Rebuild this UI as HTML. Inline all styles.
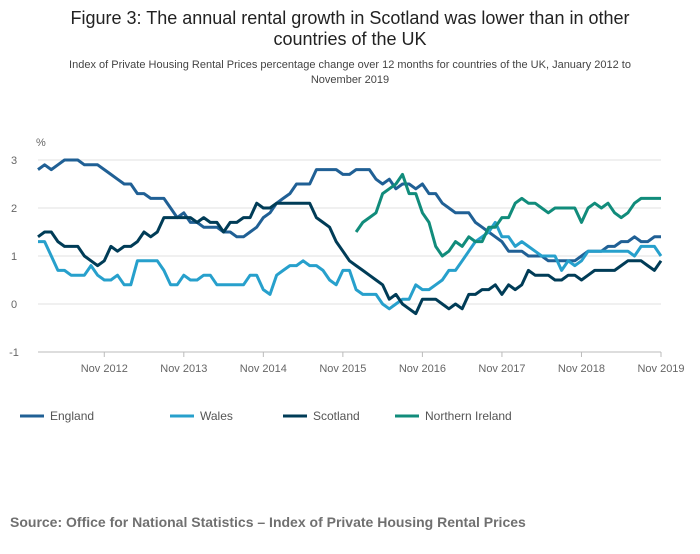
<!DOCTYPE html>
<html><head><meta charset="utf-8"><style>
body{margin:0;background:#fff;font-family:"Liberation Sans",sans-serif;}
svg text{font-family:"Liberation Sans",sans-serif;}
</style></head><body>
<svg id="c" width="700" height="549">
<text x="350" y="24" text-anchor="middle" font-size="18" fill="#222">Figure 3: The annual rental growth in Scotland was lower than in other</text>
<text x="350" y="45" text-anchor="middle" font-size="18" fill="#222">countries of the UK</text>
<text x="350" y="68" text-anchor="middle" font-size="11" fill="#444">Index of Private Housing Rental Prices percentage change over 12 months for countries of the UK, January 2012 to</text>
<text x="350" y="83" text-anchor="middle" font-size="11" fill="#444">November 2019</text>
<text x="36" y="146" font-size="11" fill="#666">%</text>
<g id="grid"></g><g id="lines"></g><g id="legend"></g>
<text x="10" y="527" font-size="14" font-weight="bold" fill="#707070">Source: Office for National Statistics – Index of Private Housing Rental Prices</text>
</svg>
<script>
const yTicks=[3,2,1,0,-1];
const xTickLabels=["Nov 2012","Nov 2013","Nov 2014","Nov 2015","Nov 2016","Nov 2017","Nov 2018","Nov 2019"];
const xTickIdx=[10,22,34,46,58,70,82,94];
const england=[2.8,2.9,2.8,2.9,3.0,3.0,3.0,2.9,2.9,2.9,2.8,2.7,2.6,2.5,2.5,2.3,2.3,2.2,2.2,2.2,2.0,1.8,1.9,1.7,1.7,1.6,1.6,1.6,1.5,1.5,1.4,1.4,1.5,1.6,1.8,1.9,2.1,2.2,2.3,2.5,2.5,2.5,2.8,2.8,2.8,2.8,2.7,2.7,2.8,2.8,2.8,2.6,2.5,2.6,2.4,2.5,2.5,2.4,2.5,2.3,2.3,2.1,2.0,1.9,1.9,1.9,1.7,1.6,1.5,1.4,1.3,1.1,1.1,1.1,1.0,1.0,1.0,0.9,0.9,0.9,0.9,0.9,1.0,1.1,1.1,1.1,1.2,1.2,1.3,1.3,1.4,1.3,1.3,1.4,1.4];
const wales=[1.3,1.3,1.0,0.7,0.7,0.6,0.6,0.6,0.8,0.6,0.5,0.5,0.6,0.4,0.4,0.9,0.9,0.9,0.9,0.7,0.4,0.4,0.6,0.5,0.5,0.6,0.6,0.4,0.4,0.4,0.4,0.4,0.6,0.6,0.3,0.2,0.6,0.7,0.8,0.8,0.9,0.8,0.8,0.7,0.5,0.4,0.7,0.7,0.3,0.2,0.2,0.2,0.0,-0.1,0.0,0.1,0.1,0.4,0.3,0.3,0.4,0.5,0.7,0.7,0.9,1.1,1.3,1.4,1.5,1.7,1.4,1.4,1.2,1.3,1.2,1.1,1.0,1.0,1.0,0.7,0.9,0.8,0.9,1.1,1.1,1.1,1.1,1.1,1.1,1.1,1.0,1.2,1.2,1.2,1.0];
const scotland=[1.4,1.5,1.5,1.3,1.2,1.2,1.2,1.0,0.9,0.8,0.9,1.2,1.1,1.2,1.2,1.3,1.5,1.4,1.5,1.8,1.8,1.8,1.8,1.8,1.7,1.8,1.7,1.7,1.5,1.7,1.7,1.8,1.8,2.1,2.0,2.0,2.1,2.1,2.1,2.1,2.1,2.1,1.8,1.7,1.6,1.3,1.1,0.9,0.8,0.7,0.6,0.5,0.4,0.1,0.2,0.0,-0.1,-0.2,0.1,0.1,0.1,0.0,-0.1,0.0,-0.1,0.2,0.2,0.3,0.3,0.4,0.2,0.4,0.3,0.4,0.7,0.6,0.6,0.6,0.5,0.5,0.6,0.6,0.5,0.6,0.7,0.7,0.7,0.7,0.8,0.9,0.9,0.9,0.8,0.7,0.9];
const niStart=48;
const northernIreland=[1.5,1.7,1.8,1.9,2.3,2.4,2.5,2.7,2.3,2.3,1.9,1.7,1.2,1.0,1.1,1.3,1.2,1.4,1.3,1.3,1.6,1.6,1.8,1.8,2.1,2.2,2.1,2.1,2.0,1.9,2.0,2.0,2.0,2.0,1.7,2.0,2.1,2.0,2.1,1.9,1.8,1.9,2.1,2.2,2.2,2.2,2.2];
const seriesNames=["England","Wales","Scotland","Northern Ireland"];
const NS="http://www.w3.org/2000/svg";
const x=i=>38+i*(661-38)/94;
const y=v=>304-v*48;
function mk(t,a,p){const e=document.createElementNS(NS,t);for(const k in a)e.setAttribute(k,a[k]);p.appendChild(e);return e;}
const g=document.getElementById('grid');
yTicks.forEach(v=>{
 const l=mk('line',{x1:38,x2:661,y1:y(v),y2:y(v),stroke:v===-1?'#bbb':'#e0e0e0','stroke-width':1},g);
 
 
 const t=mk('text',{x:14,y:y(v)+4,'font-size':11,fill:'#666','text-anchor':'middle'},g);t.textContent=v;
 
 
});
xTickLabels.forEach((s,k)=>{
 const xi=x(xTickIdx[k]);
 const tk=mk('line',{x1:xi,x2:xi,y1:352,y2:357,stroke:'#bbb'},g);
 
 
 const t=mk('text',{x:xi,y:372,'font-size':11,fill:'#666','text-anchor':'middle'},g);t.textContent=s;
 
 
});
const L=document.getElementById('lines');
const colors=["#206095","#27a0cc","#003c57","#118c7b"];
const data=[[england,0],[wales,0],[scotland,0],[northernIreland,niStart]];
data.forEach(([arr,off],k)=>{
 const d=arr.map((v,i)=>(i?'L':'M')+x(i+off).toFixed(1)+','+y(v).toFixed(1)).join('');
 const p=mk('path',{d:d,fill:'none',stroke:colors[k],'stroke-width':3,'stroke-linejoin':'round'},L);
 
 
});
const lg=document.getElementById('legend');
const lx=[20,170,283,395];
seriesNames.forEach((s,k)=>{
 const gg=mk('g',{},lg);
 
 
 mk('line',{x1:lx[k],x2:lx[k]+24,y1:416,y2:416,stroke:colors[k],'stroke-width':3},gg);
 const t=mk('text',{x:lx[k]+30,y:420,'font-size':12,fill:'#555'},gg);t.textContent=s;
});
</script>
</body></html>
